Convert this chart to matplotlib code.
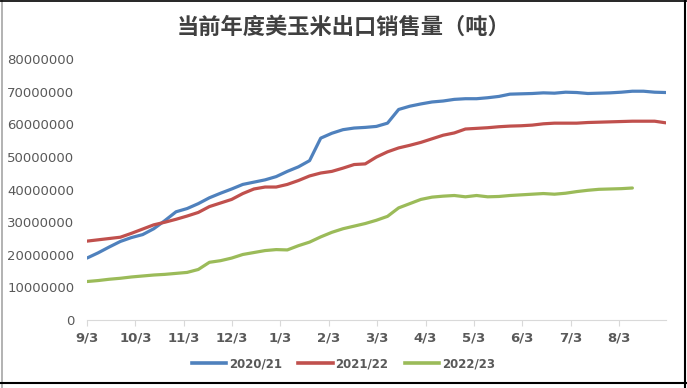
import numpy as np
import matplotlib
matplotlib.use('Agg')
import matplotlib.pyplot as plt
from matplotlib.lines import Line2D

plt.rcParams['font.family'] = ['DejaVu Sans', 'Noto Sans CJK SC']

title = '当前年度美玉米出口销售量（吨）'
month_labels = ['9/3', '10/3', '11/3', '12/3', '1/3', '2/3', '3/3', '4/3', '5/3', '6/3', '7/3', '8/3']
series_names = ['2020/21', '2021/22', '2022/23']

# weekly cumulative sales, million tonnes
y2020 = [19.0, 20.6, 22.4, 24.1, 25.3, 26.2, 28.0, 30.5, 33.2, 34.2,
         35.7, 37.5, 38.9, 40.2, 41.6, 42.3, 43.0, 44.0, 45.6, 47.0,
         48.9, 55.8, 57.3, 58.4, 58.9, 59.1, 59.4, 60.4, 64.6, 65.6,
         66.3, 66.9, 67.2, 67.7, 67.9, 67.9, 68.2, 68.6, 69.3, 69.4,
         69.5, 69.7, 69.6, 69.9, 69.8, 69.5, 69.6, 69.7, 69.9, 70.2,
         70.2, 69.9, 69.8]
y2021 = [24.2, 24.6, 25.0, 25.4, 26.6, 27.9, 29.2, 30.0, 30.9, 31.9,
         33.0, 34.8, 35.9, 37.0, 38.8, 40.2, 40.8, 40.8, 41.6, 42.8,
         44.2, 45.1, 45.6, 46.6, 47.7, 47.9, 50.0, 51.6, 52.8, 53.6,
         54.5, 55.6, 56.7, 57.4, 58.6, 58.8, 59.0, 59.3, 59.5, 59.6,
         59.8, 60.2, 60.4, 60.4, 60.4, 60.6, 60.7, 60.8, 60.9, 61.0,
         61.0, 61.0, 60.5]
y2022 = [11.8, 12.1, 12.5, 12.8, 13.2, 13.5, 13.8, 14.0, 14.3, 14.6,
         15.5, 17.7, 18.2, 19.0, 20.1, 20.7, 21.3, 21.6, 21.5, 22.8,
         23.9, 25.5, 26.9, 28.0, 28.8, 29.6, 30.6, 31.8, 34.4, 35.7,
         37.0, 37.7, 38.0, 38.2, 37.8, 38.2, 37.8, 37.9, 38.2, 38.4,
         38.6, 38.8, 38.6, 38.9, 39.4, 39.8, 40.1, 40.2, 40.3, 40.5]
colors = ['#4F81BD', '#C0504D', '#9BBB59']

fig = plt.figure(figsize=(6.87, 3.88), dpi=100)
ax = fig.add_axes([0.1266, 0.1753, 0.8425, 0.6719])

for vals, name, c in zip([y2020, y2021, y2022], series_names, colors):
    v = np.array(vals) * 1e6
    ax.plot(np.arange(len(v)), v, color=c, lw=2.3, label=name, solid_capstyle='round')

ax.set_xlim(0, 52)
ax.set_ylim(0, 80000000)
ax.set_yticks(np.arange(0, 80000001, 10000000))
ax.set_yticklabels([f'{int(t)}' for t in np.arange(0, 80000001, 10000000)])
ax.set_xticks(np.arange(12) * 365 / 7 / 12)
ax.set_xticklabels(month_labels, fontweight='bold')

for s in ['top', 'right', 'left']:
    ax.spines[s].set_visible(False)
ax.spines['bottom'].set_color('#D9D9D9')
ax.tick_params(axis='y', length=0, labelsize=9.5, colors='#595959', pad=9)
ax.tick_params(axis='x', length=4, color='#D9D9D9', labelsize=9.5, labelcolor='#595959', pad=4)

fig.text(0.5, 0.93, title, ha='center', va='center', fontsize=16, fontweight='bold',
         color='#404040', family=['Noto Sans CJK SC', 'DejaVu Sans'])

handles = [Line2D([], [], color=c, lw=2.6) for c in colors]
leg = fig.legend(handles, series_names, loc='center', bbox_to_anchor=(0.5, 0.062), ncol=3,
                 frameon=False, fontsize=8.5, handlelength=2.9, columnspacing=1.4, handletextpad=0.25)
for t in leg.get_texts():
    t.set_color('#595959')
    t.set_fontweight('bold')

# figure border
fig.add_artist(Line2D([0.003, 0.003], [0, 1], color='#A6A6A6', lw=1.2, transform=fig.transFigure))
fig.add_artist(Line2D([0.997, 0.997], [0, 1], color='black', lw=1.5, transform=fig.transFigure))
fig.add_artist(Line2D([0, 1], [0.013, 0.013], color='black', lw=1.5, transform=fig.transFigure))
fig.add_artist(Line2D([0, 1], [0.998, 0.998], color='black', lw=1.2, transform=fig.transFigure))

fig.savefig('out.png', dpi=100, facecolor='white')
